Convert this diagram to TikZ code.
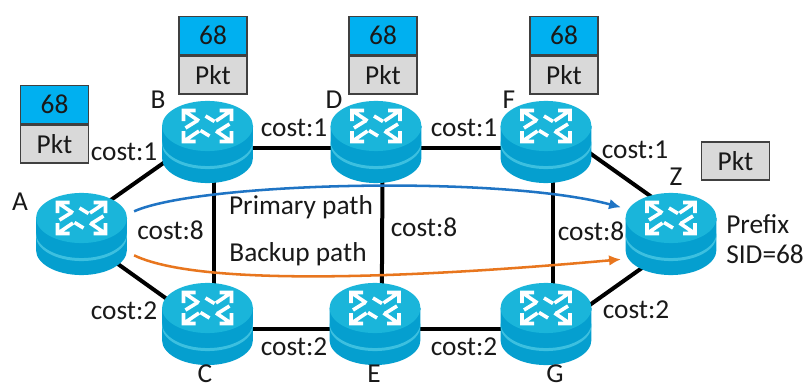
\documentclass[tikz,border=0pt]{standalone}
\usepackage{fontspec}
\setmainfont{Carlito}
\usetikzlibrary{positioning,backgrounds,arrows.meta}
\definecolor{routertop}{HTML}{1AB5DA}
\definecolor{routerside}{HTML}{059FCF}
\definecolor{sidblue}{HTML}{00B0F0}
\definecolor{pktgrey}{HTML}{D9D9D9}
\definecolor{primaryblue}{HTML}{1F74C4}
\definecolor{backuporange}{HTML}{E8761E}
\tikzset{
  routerbox/.style = {minimum width = 68.5pt, minimum height = 61.5pt, inner sep = 0pt},
  routericon/.style = {draw = white, line width = 2.7pt, miter limit = 4},
  router/.pic = {
    \fill [routerside] (-45.5,-16) arc [start angle = 180, end angle = 360, x radius = 34.1pt, y radius = 18.8pt] -- (45.5,16) -- (-45.5,16) -- cycle;
    \fill [routertop!85!white] (-45.5,1) arc [start angle = 180, end angle = 360, x radius = 34.1pt, y radius = 18.8pt] -- ++(0,-3) arc [start angle = 360, end angle = 180, x radius = 34.1pt, y radius = 18.8pt] -- cycle;
    \fill [routertop] (0,16) ellipse [x radius = 34.1pt, y radius = 18.8pt];
    \begin{scope}[shift = {(0,16)}]
    \foreach \sx/\sy in {-1/1, 1/1, 1/-1, -1/-1}
      \draw [routericon] (12*\sx,15.5*\sy) -- (24*\sx,15.5*\sy) -- (24*\sx,5*\sy) (24*\sx,15.5*\sy) -- (8.5*\sx,5*\sy);
    \draw [routericon] (-10,5.5) -- (-22,-2) (10,-5.5) -- (22,2) (7,4.5) -- (-2,10) (-7,-4.5) -- (2,-10);
    \end{scope}
  },
  pktbox/.style = {draw = black!75, line width = 1.2pt, fill = pktgrey, minimum width = 51pt, minimum height = 28.5pt, inner sep = 0pt},
  sidbox/.style = {pktbox, fill = sidblue},
  lbl/.style = {inner sep = 0pt},
  link/.style = {line width = 3pt, black},
  pathline/.style = {line width = 1.9pt, -{Latex[length = 9pt, width = 8pt]}},
  every node/.style = {font = \fontsize{20.5}{23}\selectfont, text = black!90}
}
\newcommand{\router}[2]{\node [routerbox] (#1) at (#2) {}; \pic at (#1) {router};}
\begin{document}
\begin{tikzpicture}[x = 0.75pt, y = 0.75pt]
\useasboundingbox (0,0) rectangle (811,387);
\router{A}{81.5,153}
\router{B}{207.5,245}
\router{D}{376,245}
\router{F}{546,245}
\router{Z}{671,153}
\router{C}{207.5,63}
\router{E}{375,63}
\router{G}{546,63}
% links go behind the routers
\begin{scope}[on background layer]
\draw [link] ([yshift = 10pt]A.center) -- ([yshift = 7.5pt]B.center);
\draw [link] ([yshift = -4.5pt]B.center) -- ([yshift = -4.5pt]D.center) -- ([yshift = -4.5pt]F.center);
\draw [link] ([yshift = 15pt]F.center) -- ([yshift = 17.5pt]Z.center);
\draw [link] ([yshift = -3pt]A.center) -- ([yshift = -3pt]C.center);
\draw [link] ([yshift = -3.5pt]C.center) -- ([yshift = -3.5pt]E.center) -- ([yshift = -3.5pt]G.center);
\draw [link] ([yshift = -9pt]G.center) -- ([yshift = -10pt]Z.center);
\foreach \up/\down in {B/C, D/E, F/G} \draw [link] ([xshift = 5pt]\up.center) -- ([xshift = 5pt]\down.center);
\end{scope}
% packets
\foreach \name/\x/\y in {A/54.5/243, B/213/312, D/383/312, F/564/312} {
  \node [pktbox] (pkt\name) at (\x,\y) {Pkt};
  \node [sidbox, above = 0pt of pkt\name] (sid\name) {68};
}
\node [pktbox] (pktZ) at (735.5,226) {Pkt};
% router names
\node [lbl] (nameA) at (20,185) {A};
\node [lbl] (nameB) at (158,287) {B};
\node [lbl] (nameD) at (334,287) {D};
\node [lbl] (nameF) at (509,287) {F};
\node [lbl] (nameZ) at (676,210) {Z};
\node [lbl] (nameC) at (205,13) {C};
\node [lbl] (nameE) at (374,13) {E};
\node [lbl] (nameG) at (555,13) {G};
% costs
\foreach \x/\y/\cost in {124/235/1, 294/259/1, 464/259/1, 635/237/1, 170.5/157/8, 424/160/8, 591/156/8, 124/76/2, 294/40/2, 464/40/2, 636/77/2}
  \node [lbl] (cost\x) at (\x,\y) {cost:\cost};
% paths
\coordinate (primarystart) at ([xshift = 5pt, yshift = 17pt]A.east);
\coordinate (backupstart) at ([xshift = 5pt, yshift = -16pt]A.east);
\draw [pathline, color = primaryblue] (primarystart) .. controls (200,205) and (500,212) .. ([xshift = -3pt, yshift = 20pt]Z.west);
\draw [pathline, color = backuporange] (backupstart) .. controls (210,95) and (480,115) .. ([xshift = -3pt, yshift = -19pt]Z.west);
\node [lbl] (primary) at (301,180) {Primary path};
\node [lbl] (backup) at (298,133) {Backup path};
\node [lbl, anchor = west] (prefix) at (726,163) {Prefix};
\node [lbl, anchor = west] (sid) at (726,133) {SID=68};
\end{tikzpicture}
\end{document}
